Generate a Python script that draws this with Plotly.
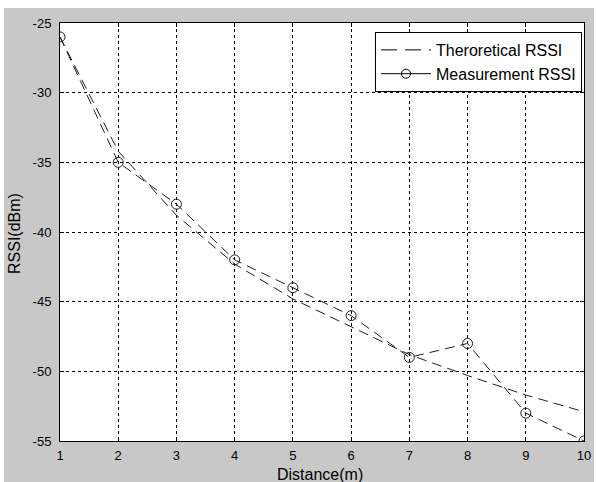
import plotly.graph_objects as go

distance = [1, 2, 3, 4, 5, 6, 7, 8, 9, 10]
theoretical_rssi = [-26, -34.2, -38.8, -42.3, -44.8, -46.8, -48.8, -50.3, -51.7, -52.9]
measured_rssi = [-26, -35, -38, -42, -44, -46, -49, -48, -53, -55]
x_ticks = [1, 2, 3, 4, 5, 6, 7, 8, 9, 10]
y_ticks = [-55, -50, -45, -40, -35, -30, -25]
y_tick_labels = ["-55", "-50", "-45", "-40", "-35", "-30", "-25"]

W, H = 597, 482
L, R, T, B = 60, 13, 23, 41
pw, ph = W - L - R, H - T - B


def px_x(px):
    return (px - L) / pw


def px_y(py):
    return (H - B - py) / ph


FONT = "Liberation Sans, Arial, sans-serif"
LINE = "#1e1e1e"

fig = go.Figure()
fig.add_trace(go.Scatter(
    x=distance, y=theoretical_rssi, mode="lines", name="Theroretical RSSI",
    line=dict(color=LINE, width=1, dash="10px,6px"), showlegend=False,
))
fig.add_trace(go.Scatter(
    x=distance, y=measured_rssi, mode="lines+markers", name="Measurement RSSI",
    line=dict(color=LINE, width=1, dash="10px,6px"), showlegend=False,
    marker=dict(symbol="circle-open", size=10, color=LINE, line=dict(width=1)),
))
# legend entries (MATLAB-style samples)
fig.add_trace(go.Scatter(
    x=[None], y=[None], mode="lines", name="Theroretical RSSI", legendgroup="a",
    line=dict(color="black", width=1, dash="16px,8px"),
))
fig.add_trace(go.Scatter(
    x=[None], y=[None], mode="lines+markers", name="Measurement RSSI", legendgroup="b",
    line=dict(color="black", width=1),
    marker=dict(symbol="circle-open", size=9, color="black", line=dict(width=1)),
))

axis_common = dict(
    showline=True, linecolor="black", linewidth=1, mirror="allticks",
    ticks="inside", ticklen=4, tickcolor="black", automargin=False,
    showgrid=True, gridcolor="black", griddash="3px,3px", gridwidth=1,
    zeroline=False, tickfont=dict(family=FONT, size=13, color="black"),
)

fig.update_layout(
    width=W, height=H,
    margin=dict(l=L, r=R, t=T, b=B, pad=0, autoexpand=False),
    paper_bgcolor="#c8c8c8", plot_bgcolor="white",
    font=dict(family=FONT, size=13, color="black"),
    xaxis=dict(range=[1, 10], tickvals=x_ticks, ticklabelstandoff=2, **axis_common),
    yaxis=dict(range=[-55, -25], tickvals=y_ticks, ticktext=y_tick_labels,
               ticklabelstandoff=5, **axis_common),
    legend=dict(
        x=px_x(582), y=px_y(32), xanchor="right", yanchor="top",
        bgcolor="white", bordercolor="black", borderwidth=1,
        font=dict(family=FONT, size=16, color="black"),
        tracegroupgap=0, itemwidth=50,
    ),
    showlegend=True,
)

fig.add_annotation(text="Distance(m)", xref="paper", yref="paper",
                   x=px_x(320), y=px_y(474), xanchor="center", yanchor="middle",
                   showarrow=False, font=dict(family=FONT, size=16, color="black"))
fig.add_annotation(text="RSSI(dBm)", xref="paper", yref="paper", textangle=-90,
                   x=px_x(14), y=px_y(234), xanchor="center", yanchor="middle",
                   showarrow=False, font=dict(family=FONT, size=16, color="black"))

# thin white borders of the original image
for x0, x1, y0, y1 in [(0, 4, 0, H), (594, W, 0, H), (0, W, 0, 8)]:
    fig.add_shape(type="rect", xref="paper", yref="paper",
                  x0=px_x(x0), x1=px_x(x1), y0=px_y(y1), y1=px_y(y0),
                  fillcolor="white", line=dict(width=0), layer="above")

fig.write_html("out.html", config={"displayModeBar": False},
               post_script="document.body.style.margin='0';document.body.style.padding='0';")
